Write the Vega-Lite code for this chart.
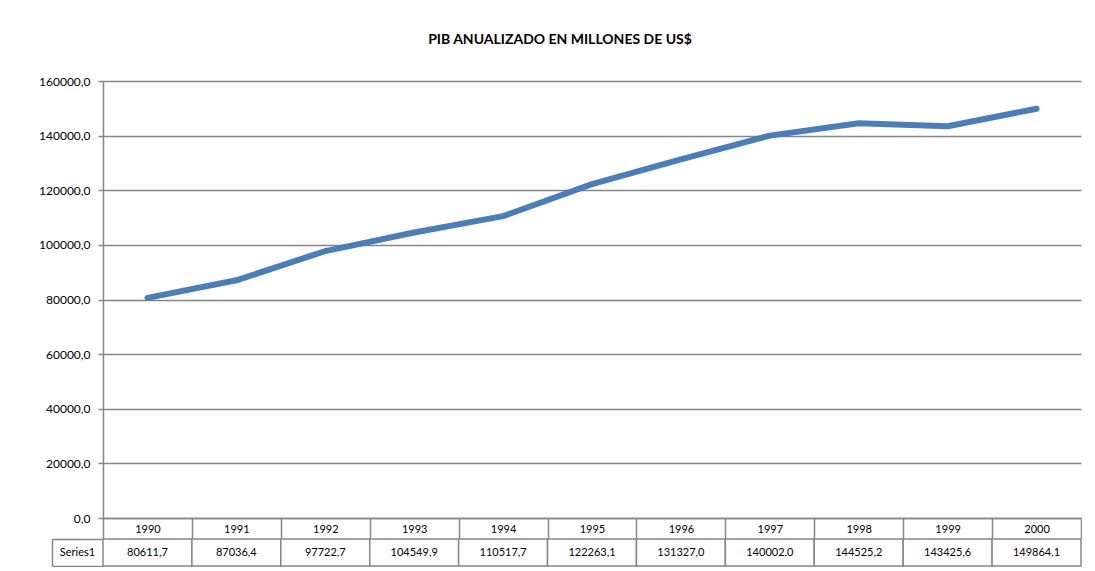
{
  "$schema": "https://vega.github.io/schema/vega-lite/v6.json",
  "padding": {"left": 38, "top": 33, "right": 0, "bottom": 0},
  "background": "white",
  "spacing": -6,
  "config": {
    "font": "Lato",
    "view": {"stroke": null},
    "locale": {"number": {"decimal": ",", "thousands": ".", "grouping": [3], "currency": ["$", ""]}},
    "axis": {"labelFont": "Lato", "labelFontSize": 11, "labelColor": "#000000", "domainColor": "#868686", "tickColor": "#868686", "gridColor": "#868686", "domainWidth": 1.5, "tickWidth": 1.5, "gridWidth": 1.5}
  },
  "data": {"values": [
    {"year": "1990", "pib": 80611.7, "serie": "Series1"},
    {"year": "1991", "pib": 87036.4, "serie": "Series1"},
    {"year": "1992", "pib": 97722.7, "serie": "Series1"},
    {"year": "1993", "pib": 104549.9, "serie": "Series1"},
    {"year": "1994", "pib": 110517.7, "serie": "Series1"},
    {"year": "1995", "pib": 122263.1, "serie": "Series1"},
    {"year": "1996", "pib": 131327.0, "serie": "Series1"},
    {"year": "1997", "pib": 140002.0, "serie": "Series1"},
    {"year": "1998", "pib": 144525.2, "serie": "Series1"},
    {"year": "1999", "pib": 143425.6, "serie": "Series1"},
    {"year": "2000", "pib": 149864.1, "serie": "Series1"}
  ]},
  "vconcat": [
    {
      "width": 978,
      "height": 437,
      "title": {"text": "PIB ANUALIZADO EN MILLONES DE US$", "font": "Lato", "fontSize": 14, "fontWeight": "bold", "color": "#000000", "anchor": "middle", "dx": -32, "offset": 28},
      "mark": {"type": "line", "color": "#4a7ebb", "strokeWidth": 6, "strokeCap": "round", "strokeJoin": "round"},
      "encoding": {
        "x": {"field": "year", "type": "ordinal", "scale": {"paddingInner": 0, "paddingOuter": 0},
              "axis": {"title": null, "labelAngle": 0, "tickBand": "extent", "tickSize": 20, "labelPadding": -15, "grid": false}},
        "y": {"field": "pib", "type": "quantitative", "scale": {"domain": [0, 160000]},
              "axis": {"title": null, "values": [0, 20000, 40000, 60000, 80000, 100000, 120000, 140000, 160000], "format": ".1f", "labelFontSize": 12, "tickSize": 5, "labelPadding": 8, "grid": true}}
      }
    },
    {
      "width": 978,
      "height": 27,
      "encoding": {
        "x": {"field": "year", "type": "ordinal", "scale": {"paddingInner": 0, "paddingOuter": 0}, "axis": null},
        "y": {"field": "serie", "type": "nominal", "scale": {"paddingInner": 0, "paddingOuter": 0},
              "axis": {"title": null, "offset": 51, "tickBand": "extent", "tickSize": -51, "labelAlign": "center", "labelPadding": 26}}
      },
      "layer": [
        {"mark": {"type": "rect", "fill": "white", "stroke": "#868686", "strokeWidth": 1.5}},
        {"mark": {"type": "text", "font": "Lato", "fontSize": 11, "color": "#000000"},
         "encoding": {"text": {"field": "pib", "type": "quantitative", "format": ".1f"}}}
      ]
    }
  ]
}
